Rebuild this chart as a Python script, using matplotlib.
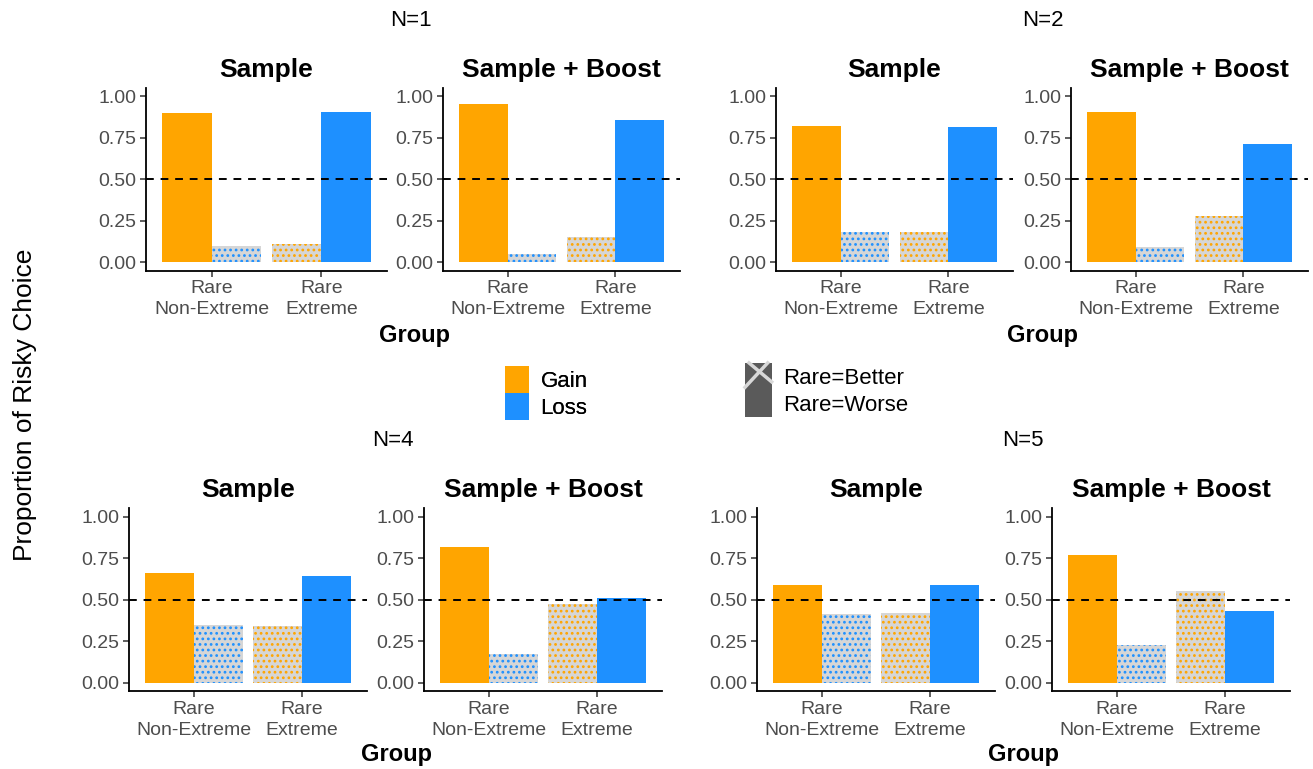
import matplotlib
matplotlib.use("Agg")
import matplotlib.pyplot as plt
from matplotlib.patches import Patch, Rectangle
from matplotlib.lines import Line2D
from matplotlib.legend_handler import HandlerPatch

plt.rcParams["font.family"] = ["Liberation Sans", "DejaVu Sans"]
plt.rcParams["hatch.linewidth"] = 1.2

# data
groups = ["Rare\nNon-Extreme", "Rare\nExtreme"]
n_labels = ["N=1", "N=2", "N=4", "N=5"]
conditions = ["Sample", "Sample + Boost"]

gain_sample = [[0.90, 0.11], [0.82, 0.18], [0.66, 0.34], [0.59, 0.42]]
loss_sample = [[0.10, 0.905], [0.18, 0.815], [0.35, 0.645], [0.415, 0.59]]
gain_boost = [[0.955, 0.15], [0.905, 0.28], [0.82, 0.475], [0.77, 0.555]]
loss_boost = [[0.05, 0.855], [0.09, 0.71], [0.175, 0.51], [0.225, 0.435]]

# rare=better cells are hatched: Loss in Non-Extreme, Gain in Extreme
gain_hatched = [False, True]
loss_hatched = [True, False]

GAIN = "#FFA500"
LOSS = "#1E90FF"
HATCH_BG = "#d6d6d6"
KEY_GREY = "#5a5a5a"

W, H = 1313, 769
fig = plt.figure(figsize=(W / 100, H / 100), dpi=100)


def px_axes(left, right, top, bottom):
    return fig.add_axes([left / W, 1 - bottom / H, (right - left) / W, (bottom - top) / H])


def px_text(x, y, s, **kw):
    fig.text(x / W, 1 - y / H, s, ha="center", va="center", **kw)


class HandlerCross(HandlerPatch):
    # grey key with a white cross, like the pattern key in the original
    def create_artists(self, legend, orig_handle, xdescent, ydescent,
                       width, height, fontsize, trans):
        x0, y0 = -xdescent, -ydescent
        rect = Rectangle((x0, y0), width, height, facecolor=KEY_GREY,
                         edgecolor="none", transform=trans)
        l1 = Line2D([x0 + 0.15 * width, x0 + width], [y0 + height, y0 + 0.3 * height],
                    color="#d8d8d8", lw=2.5, transform=trans)
        l2 = Line2D([x0, x0 + 0.85 * width], [y0 + 0.1 * height, y0 + height],
                    color="#d8d8d8", lw=2.5, transform=trans)
        return [rect, l1, l2]


# panel edges in pixels: (left, right) per panel, (top, bottom) per row
panel_x = [[(146, 387), (443, 680)], [(776, 1013), (1071, 1308)],
           [(129, 367), (424, 662)], [(757, 995), (1052, 1290)]]
row_y = [(88, 270.5), (508.5, 691)]
n_pos = [(411, 20), (1043, 20), (393, 441), (1023, 441)]
group_pos = [(415, 335), (1043, 335), (396, 755), (1023, 755)]

data = [(gain_sample, loss_sample), (gain_boost, loss_boost)]
x = [1, 2]
w = 0.45

for i, n in enumerate(n_labels):
    top, bottom = row_y[i // 2]
    for j, cond in enumerate(conditions):
        left, right = panel_x[i][j]
        ax = px_axes(left, right, top, bottom)
        gains = data[j][0][i]
        losses = data[j][1][i]
        for k in range(2):
            if gain_hatched[k]:
                ax.bar(x[k] - w / 2, gains[k], w, color=HATCH_BG, edgecolor=GAIN,
                       hatch="...", linewidth=0)
            else:
                ax.bar(x[k] - w / 2, gains[k], w, color=GAIN, linewidth=0)
            if loss_hatched[k]:
                ax.bar(x[k] + w / 2, losses[k], w, color=HATCH_BG, edgecolor=LOSS,
                       hatch="...", linewidth=0)
            else:
                ax.bar(x[k] + w / 2, losses[k], w, color=LOSS, linewidth=0)
        ax.axhline(0.5, color="black", linestyle=(0, (4, 3.5)), linewidth=1.4)
        ax.set_xlim(0.4, 2.6)
        ax.set_ylim(-0.05, 1.05)
        ax.set_yticks([0, 0.25, 0.5, 0.75, 1.0])
        ax.set_yticklabels(["0.00", "0.25", "0.50", "0.75", "1.00"])
        ax.set_xticks(x)
        ax.set_xticklabels(groups, linespacing=1.3)
        ax.tick_params(labelsize=14, labelcolor="#4d4d4d", color="#333333",
                       length=4, width=1.1, pad=3)
        for s in ["top", "right"]:
            ax.spines[s].set_visible(False)
        for s in ["left", "bottom"]:
            ax.spines[s].set_linewidth(1.3)
        ax.set_title(cond, fontsize=19, fontweight="bold", pad=8)
    px_text(*n_pos[i], n, fontsize=16)
    px_text(*group_pos[i], "Group", fontsize=17, fontweight="bold")

px_text(25, 405, "Proportion of Risky Choice", fontsize=19, rotation=90)

# legends
leg1 = fig.legend(handles=[Patch(facecolor=GAIN, label="Gain"),
                           Patch(facecolor=LOSS, label="Loss")],
                  loc="center left", bbox_to_anchor=(505 / W, 1 - 393 / H),
                  frameon=False, fontsize=16, handlelength=1.1, handleheight=1.5,
                  labelspacing=0.0, handletextpad=0.5, borderpad=0,
                  borderaxespad=0)
fig.add_artist(leg1)
better = Patch(facecolor=KEY_GREY, label="Rare=Better")
worse = Patch(facecolor=KEY_GREY, label="Rare=Worse")
fig.legend(handles=[better, worse], handler_map={better: HandlerCross()},
           loc="center left", bbox_to_anchor=(745 / W, 1 - 390 / H),
           frameon=False, fontsize=16, handlelength=1.2, handleheight=1.5,
           labelspacing=0.0, handletextpad=0.5, borderpad=0, borderaxespad=0)

fig.savefig("out.png", dpi=100)
